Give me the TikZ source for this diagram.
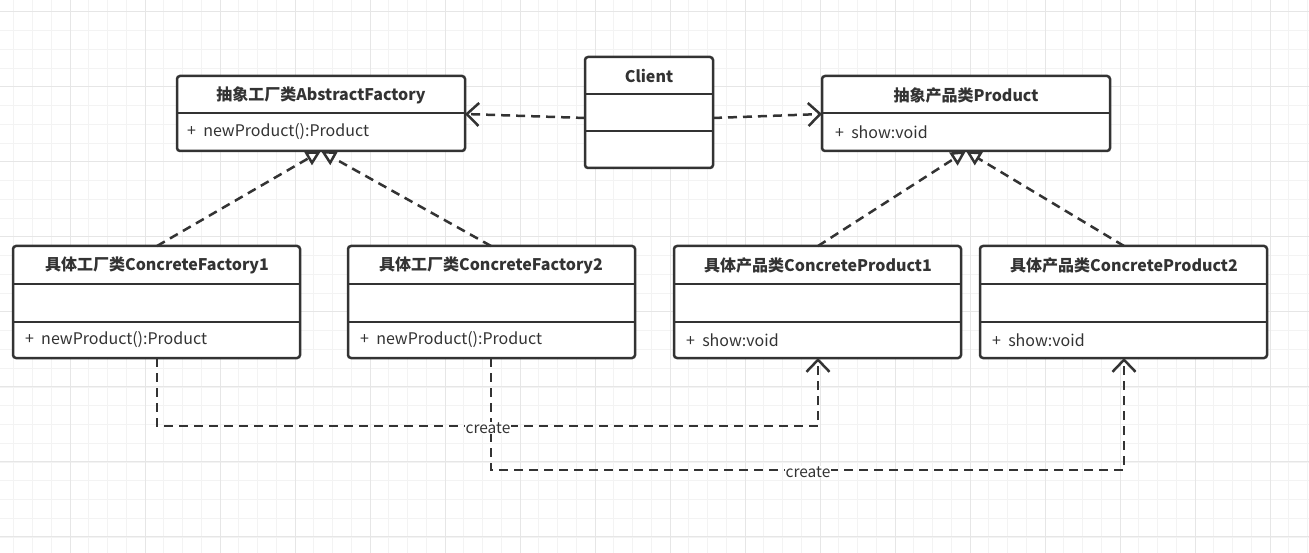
\documentclass[tikz,border=0pt]{standalone}
\usepackage{fontspec}
\setmainfont{Noto Sans CJK SC}
\usetikzlibrary{arrows.meta}
\definecolor{ln}{HTML}{333333}
\definecolor{gminor}{HTML}{F3F3F3}
\definecolor{gmajor}{HTML}{E6E6E6}
\tikzset{
  umlbox/.style={draw=ln, line width=2.5pt, rounded corners=3pt, fill=white},
  divline/.style={draw=ln, line width=2.5pt},
  ttl/.style={font=\bfseries\fontsize{16}{18}\selectfont, text=ln, inner sep=0pt},
  attr/.style={font=\fontsize{16}{18}\selectfont, text=ln, inner sep=0pt, anchor=west},
  dep/.style={draw=ln, line width=2.5pt, dash pattern=on 9pt off 6pt, -{Straight Barb[length=12pt,width=23pt,line width=2.5pt]}},
  real/.style={draw=ln, line width=2.5pt, dash pattern=on 9pt off 6pt, -{Triangle[open,length=15pt,width=15pt,line width=2.5pt,fill=white]}},
  lbl/.style={font=\fontsize{15.5}{17}\selectfont, text=ln, fill=white, inner sep=1pt}
}
\begin{document}
\begin{tikzpicture}[x=1pt,y=-1pt]
\useasboundingbox (0,0) rectangle (1309,553);
\fill[white] (0,0) rectangle (1309,553);
% grid
\foreach \i in {0,...,70} {
  \draw[gminor, line width=1pt] ({-5+18.75*\i},0) -- ({-5+18.75*\i},553);
}
\foreach \i in {0,...,30} {
  \draw[gminor, line width=1pt] (0,{-6.75+18.75*\i}) -- (1309,{-6.75+18.75*\i});
}
\foreach \i in {0,...,17} {
  \draw[gmajor, line width=1pt] ({70+75*\i-75},0) -- ({70+75*\i-75},553);
}
\foreach \i in {0,...,7} {
  \draw[gmajor, line width=1pt] (0,{11.75+75*\i}) -- (1309,{11.75+75*\i});
}

% AbstractFactory
\draw[umlbox] (177,76) rectangle (465,151);
\draw[divline] (177,113) -- (465,113);
\node[ttl] (af) at (321,95) {抽象工厂类AbstractFactory};
\node[attr] (afa) at (187,132) {+\ \ newProduct():Product};
\coordinate (afb) at (321,151);
\coordinate (afr) at (465,114);

% Client
\draw[umlbox] (585,57) rectangle (713,168);
\draw[divline] (585,94) -- (713,94);
\draw[divline] (585,131) -- (713,131);
\node[ttl] (cl) at (649,76) {Client};
\coordinate (cll) at (585,118);
\coordinate (clr) at (713,118);

% Product
\draw[umlbox] (822,76) rectangle (1110,151);
\draw[divline] (822,113) -- (1110,113);
\node[ttl] (pr) at (966,95) {抽象产品类Product};
\node[attr] (pra) at (835,132) {+\ \ show:void};
\coordinate (prb) at (966,151);
\coordinate (prl) at (822,114);

% ConcreteFactory1
\draw[umlbox] (13,246) rectangle (300,358);
\draw[divline] (13,284) -- (300,284);
\draw[divline] (13,322) -- (300,322);
\node[ttl] (cf1) at (157,265) {具体工厂类ConcreteFactory1};
\node[attr] (cf1a) at (25,340) {+\ \ newProduct():Product};
\coordinate (cf1t) at (157,246);
\coordinate (cf1b) at (157,358);

% ConcreteFactory2
\draw[umlbox] (348,246) rectangle (635,358);
\draw[divline] (348,284) -- (635,284);
\draw[divline] (348,322) -- (635,322);
\node[ttl] (cf2) at (491,265) {具体工厂类ConcreteFactory2};
\node[attr] (cf2a) at (360,340) {+\ \ newProduct():Product};
\coordinate (cf2t) at (491,246);
\coordinate (cf2b) at (491,358);

% ConcreteProduct1
\draw[umlbox] (674,246) rectangle (961,358);
\draw[divline] (674,284) -- (961,284);
\draw[divline] (674,322) -- (961,322);
\node[ttl] (cp1) at (818,265) {具体产品类ConcreteProduct1};
\node[attr] (cp1a) at (686,340) {+\ \ show:void};
\coordinate (cp1t) at (818,246);
\coordinate (cp1b) at (818,358);

% ConcreteProduct2
\draw[umlbox] (980,246) rectangle (1267,358);
\draw[divline] (980,284) -- (1267,284);
\draw[divline] (980,322) -- (1267,322);
\node[ttl] (cp2) at (1124,265) {具体产品类ConcreteProduct2};
\node[attr] (cp2a) at (992,340) {+\ \ show:void};
\coordinate (cp2t) at (1124,246);
\coordinate (cp2b) at (1124,358);

% dependencies from client
\draw[dep] (cll) -- (afr);
\draw[dep] (clr) -- (prl);

% realizations
\draw[real] (cf1t) -- (afb);
\draw[real] (cf2t) -- (afb);
\draw[real] (cp1t) -- (prb);
\draw[real] (cp2t) -- (prb);

% create links
\draw[dep] (cf1b) -- (157,426) -- (818,426) -- (cp1b);
\draw[dep] (cf2b) -- (491,470) -- (1124,470) -- (cp2b);
\node[lbl] (c1) at (488,428) {create};
\node[lbl] (c2) at (808,472) {create};
\end{tikzpicture}
\end{document}
